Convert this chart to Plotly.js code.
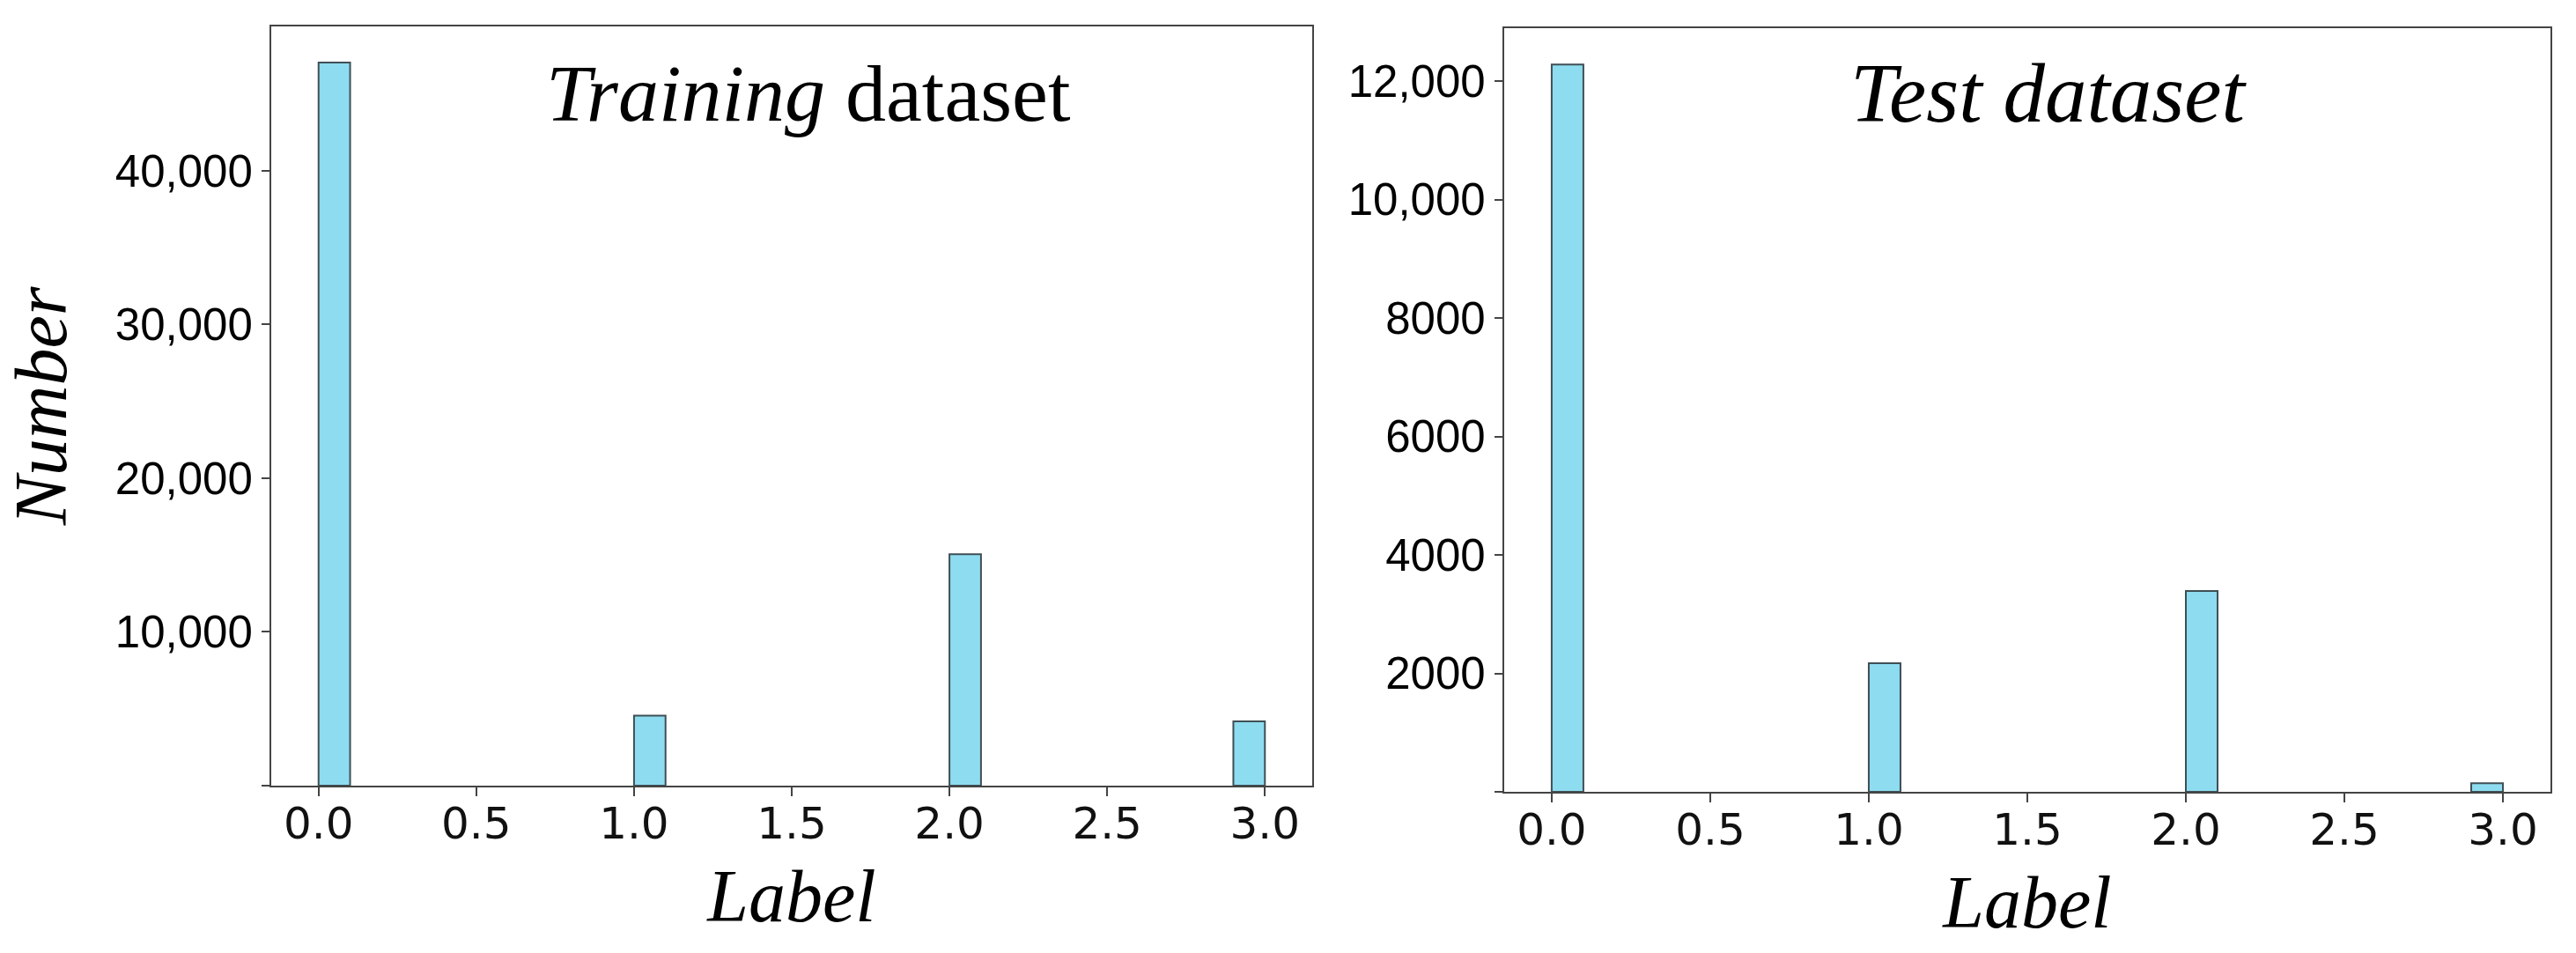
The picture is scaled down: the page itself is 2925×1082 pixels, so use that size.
<!DOCTYPE html>
<html>
<head>
<meta charset="utf-8">
<script src="https://cdn.plot.ly/plotly-3.0.1.min.js"></script>
<style>html,body{margin:0;padding:0;background:#fff;}#chart{width:2925px;height:1082px;}</style>
</head>
<body>
<div id="chart"></div>
<script>
// ---- data ----
const labels = [0, 1, 2, 3];                 // class labels
const binStart = [0.0, 1.0, 2.0, 2.9];       // left edge of the histogram bin holding each label (30 bins over 0..3)
const binWidth = 0.1;
const trainCounts = [47040, 4550, 15050, 4180];
const testCounts  = [12280, 2170, 3390, 145];

const xTickVals = [0, 0.5, 1, 1.5, 2, 2.5, 3];
const xTickText = ['0.0', '0.5', '1.0', '1.5', '2.0', '2.5', '3.0'];
const trainYTickVals = [0, 10000, 20000, 30000, 40000];
const trainYTickText = ['', '10,000', '20,000', '30,000', '40,000'];
const testYTickVals = [0, 2000, 4000, 6000, 8000, 10000, 12000];
const testYTickText = ['', '2000', '4000', '6000', '8000', '10,000', '12,000'];

// ---- styles ----
const barFill = '#8edcf0';
const barEdge = '#3f4f55';
const frame = '#444444';
const serif = 'Liberation Serif, Times New Roman, serif';

function barTrace(y, xa, ya) {
  return {
    type: 'bar', x: binStart, y: y, width: binWidth, offset: 0,
    xaxis: xa, yaxis: ya,
    marker: { color: barFill, line: { color: barEdge, width: 2 } },
    hovertext: labels.map(l => 'Label ' + l), showlegend: false
  };
}

const maxTrain = Math.max(...trainCounts);
const maxTest = Math.max(...testCounts);

const xCommon = {
  range: [-0.15, 3.15], tickvals: xTickVals, ticktext: xTickText,
  ticks: 'outside', ticklen: 10, tickwidth: 2, tickcolor: frame,
  ticklabelstandoff: -12,
  showline: true, mirror: true, linecolor: frame, linewidth: 2,
  showgrid: false, zeroline: false,
  tickfont: { family: 'DejaVu Sans, sans-serif', size: 50, color: '#111' }
};
const yCommon = {
  ticks: 'outside', ticklen: 9, tickwidth: 2, tickcolor: frame,
  showline: true, mirror: true, linecolor: frame, linewidth: 2,
  showgrid: false, zeroline: false,
  tickfont: { family: 'Liberation Sans, Arial, sans-serif', size: 51, color: '#000' }
};

const layout = {
  width: 2925, height: 1082,
  margin: { l: 0, r: 0, t: 0, b: 0 },
  paper_bgcolor: '#fff', plot_bgcolor: '#fff',
  bargap: 0,
  xaxis: Object.assign({}, xCommon, {
    domain: [0.1053, 0.5094], anchor: 'y',
    title: { text: '<i>Label</i>', font: { family: serif, size: 84, color: '#000' }, standoff: 24 }
  }),
  yaxis: Object.assign({}, yCommon, {
    domain: [0.1756, 0.9723], anchor: 'x',
    range: [0, maxTrain * 1.05], tickvals: trainYTickVals, ticktext: trainYTickText,
    title: { text: '<i>Number</i>', font: { family: serif, size: 84, color: '#000' }, standoff: 40 }
  }),
  xaxis2: Object.assign({}, xCommon, {
    domain: [0.5839, 0.9901], anchor: 'y2',
    title: { text: '<i>Label</i>', font: { family: serif, size: 84, color: '#000' }, standoff: 24 }
  }),
  yaxis2: Object.assign({}, yCommon, {
    domain: [0.1691, 0.9704], anchor: 'x2',
    range: [0, maxTest * 1.05], tickvals: testYTickVals, ticktext: testYTickText
  }),
  annotations: [
    { text: '<i>Training</i> dataset', xref: 'paper', yref: 'paper', x: 0.3138, y: 0.902,
      xanchor: 'center', yanchor: 'middle', showarrow: false,
      font: { family: serif, size: 92, color: '#000' } },
    { text: '<i>Test dataset</i>', xref: 'paper', yref: 'paper', x: 0.7952, y: 0.902,
      xanchor: 'center', yanchor: 'middle', showarrow: false,
      font: { family: serif, size: 95, color: '#000' } }
  ]
};

Plotly.newPlot('chart', [barTrace(trainCounts, 'x', 'y'), barTrace(testCounts, 'x2', 'y2')], layout,
  { displayModeBar: false, staticPlot: true });
</script>
</body>
</html>
